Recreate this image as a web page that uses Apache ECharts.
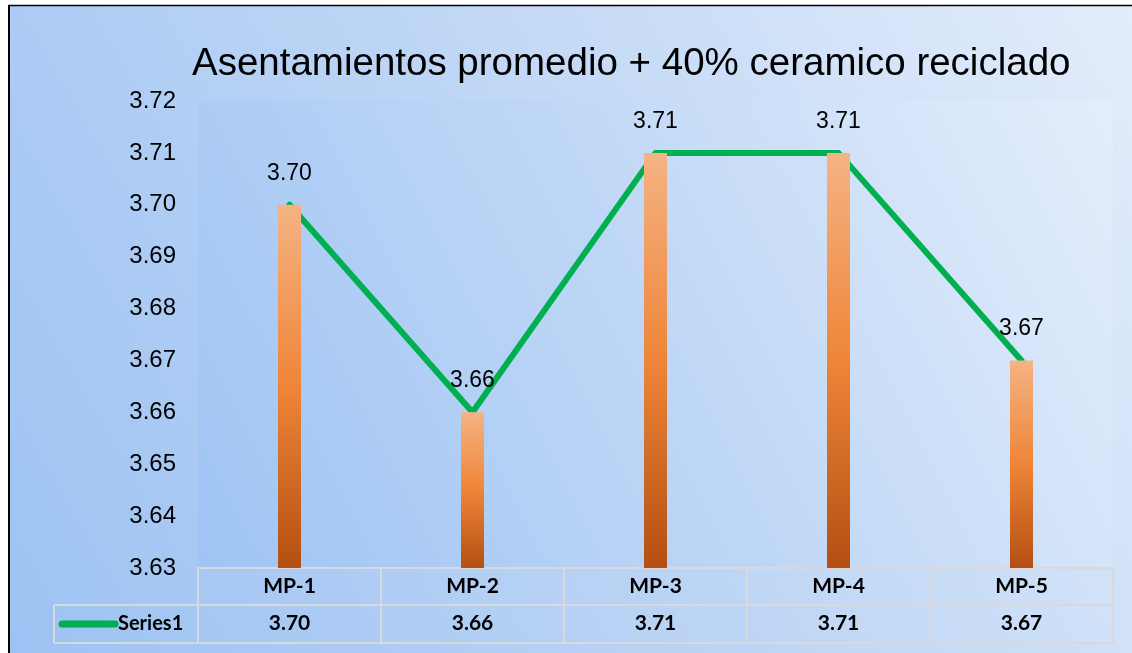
<!DOCTYPE html>
<html>
<head>
<meta charset="utf-8">
<script src="https://cdn.jsdelivr.net/npm/echarts@6/dist/echarts.min.js"></script>
<style>
html,body{margin:0;padding:0;background:#fff;}
#c{width:1132px;height:653px;}
</style>
</head>
<body>
<div id="c"></div>
<script>
const titleText = 'Asentamientos promedio + 40% ceramico reciclado';
const categories = ['MP-1', 'MP-2', 'MP-3', 'MP-4', 'MP-5'];
const seriesName = 'Series1';
const values = [3.70, 3.66, 3.71, 3.71, 3.67];
const yMin = 3.63, yMax = 3.72, yStep = 0.01;

const G = { left: 198, right: 1113, top: 101, bottom: 568 };
const tableRow2 = 605, tableBottom = 643, tableLeft = 54;
const lineCol = '#d9d9d9';

const chart = echarts.init(document.getElementById('c'));
chart.setOption({
  animation: false,
  backgroundColor: new echarts.graphic.LinearGradient(0, 1, 1, 0, [
    { offset: 0, color: '#9cc2f3' },
    { offset: 0.5, color: '#bdd5f5' },
    { offset: 1, color: '#e3edfb' }
  ]),
  title: {
    text: titleText,
    left: 187, top: 40,
    textStyle: { fontFamily: 'Liberation Sans, Arial', fontSize: 38.5, fontWeight: 'normal', color: '#000' }
  },
  grid: {
    left: G.left, right: 1132 - G.right, top: G.top, bottom: 653 - G.bottom,
    show: true, borderWidth: 0,
    backgroundColor: new echarts.graphic.LinearGradient(0, 1, 1, 0, [
      { offset: 0, color: '#9fc4f4' },
      { offset: 0.5, color: '#bfd7f6' },
      { offset: 1, color: '#e4eefb' }
    ])
  },
  xAxis: [{
    type: 'category', data: categories, position: 'bottom',
    axisLine: { show: true, lineStyle: { color: lineCol, width: 2 } },
    axisTick: { show: true, length: tableBottom - G.bottom, lineStyle: { color: lineCol, width: 2 } },
    axisLabel: { margin: 8, fontFamily: 'Lato, Carlito, sans-serif', fontWeight: 'bold', fontSize: 21, color: '#000' }
  }, {
    type: 'category', data: values.map(v => v.toFixed(2)), position: 'bottom', offset: tableRow2 - G.bottom,
    axisLine: { show: false }, axisTick: { show: false },
    axisLabel: { margin: 8, fontFamily: 'Lato, Carlito, sans-serif', fontWeight: 'bold', fontSize: 21, color: '#000' }
  }],
  yAxis: {
    type: 'value', min: yMin, max: yMax, interval: yStep,
    axisLine: { show: false }, axisTick: { show: false }, splitLine: { show: false },
    axisLabel: { margin: 22, fontFamily: 'Liberation Sans, Arial', fontSize: 24, color: '#000', formatter: v => v.toFixed(2) }
  },
  series: [{
    name: seriesName, type: 'line', data: values, z: 2,
    showSymbol: false, symbol: 'none',
    lineStyle: { color: '#00b050', width: 6, cap: 'round', join: 'round' },
    itemStyle: { color: '#00b050' }
  }, {
    name: seriesName, type: 'bar', data: values, z: 3, barWidth: 23, clip: true,
    itemStyle: {
      color: new echarts.graphic.LinearGradient(0, 0, 0, 1, [
        { offset: 0, color: '#f5b384' },
        { offset: 0.5, color: '#ee8538' },
        { offset: 1, color: '#b34f12' }
      ])
    },
    label: {
      show: true, position: 'top', distance: 20,
      fontFamily: 'Liberation Sans, Arial', fontSize: 23, color: '#000',
      formatter: p => p.value.toFixed(2)
    }
  }],
  graphic: [
    { type: 'rect', shape: { x: 0, y: 0, width: 8, height: 653 }, style: { fill: '#fff' }, z: 100 },
    { type: 'rect', shape: { x: 0, y: 0, width: 1132, height: 5 }, style: { fill: '#fff' }, z: 100 },
    { type: 'line', shape: { x1: 9, y1: 5, x2: 9, y2: 653 }, style: { stroke: '#000', lineWidth: 2 }, z: 100 },
    { type: 'line', shape: { x1: 8, y1: 5.5, x2: 1132, y2: 5.5 }, style: { stroke: '#000', lineWidth: 1.5 }, z: 100 },
    { type: 'line', shape: { x1: tableLeft, y1: tableRow2, x2: G.right + 1, y2: tableRow2 }, style: { stroke: lineCol, lineWidth: 2 }, z: 50 },
    { type: 'line', shape: { x1: tableLeft, y1: tableBottom, x2: G.right + 1, y2: tableBottom }, style: { stroke: lineCol, lineWidth: 2 }, z: 50 },
    { type: 'line', shape: { x1: tableLeft, y1: tableRow2, x2: tableLeft, y2: tableBottom }, style: { stroke: lineCol, lineWidth: 2 }, z: 50 },
    { type: 'line', shape: { x1: 62, y1: 624, x2: 115, y2: 624 }, style: { stroke: '#00b050', lineWidth: 7, lineCap: 'round' }, z: 50 },
    { type: 'text', x: 118, y: 624, style: { text: seriesName, fontFamily: 'Lato, Carlito, sans-serif', fontWeight: 'bold', fontSize: 20, fill: '#000', textVerticalAlign: 'middle', verticalAlign: 'middle' }, z: 50 }
  ]
});
</script>
</body>
</html>
